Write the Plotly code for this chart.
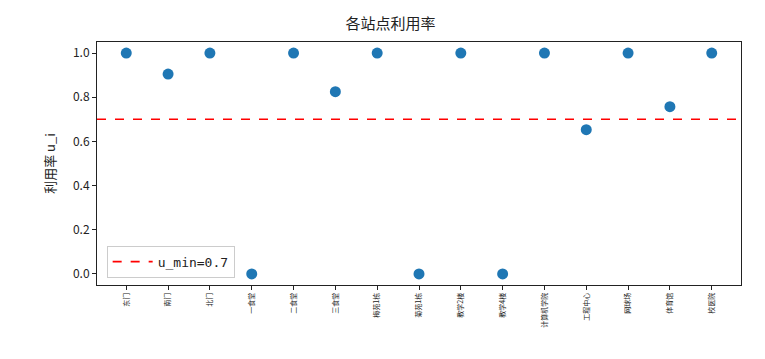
import plotly.graph_objects as go

stations = ["东门", "南门", "北门", "一食堂", "二食堂", "三食堂", "梅苑1栋", "菊苑1栋",
            "教学2楼", "教学4楼", "计算机学院", "工程中心", "网球场", "体育馆", "校医院"]
utilization = [1.0, 0.905, 1.0, 0.0, 1.0, 0.825, 1.0, 0.0, 1.0, 0.0, 1.0, 0.653, 1.0, 0.757, 1.0]
u_min = 0.7
y_ticks = [0.0, 0.2, 0.4, 0.6, 0.8, 1.0]

font = "Noto Sans CJK SC, DejaVu Sans, sans-serif"

fig = go.Figure()
fig.add_trace(go.Scatter(
    x=list(range(len(stations))), y=utilization, mode="markers",
    marker=dict(color="#1f77b4", size=11, line=dict(width=0)),
    showlegend=False))
fig.add_trace(go.Scatter(
    x=[None], y=[None], mode="lines",
    line=dict(color="red", dash="dash", width=1.6),
    name=f"u_min={u_min}"))
fig.add_hline(y=u_min, line=dict(color="red", dash="dash", width=1.6))

fig.update_layout(
    width=765, height=359,
    margin=dict(l=89, r=32, t=34, b=82),
    plot_bgcolor="white", paper_bgcolor="white",
    font=dict(family=font, color="#222", size=12),
    title=dict(text="各站点利用率", x=0.5, xanchor="center", y=0.955, yanchor="middle",
               font=dict(size=15, color="#222")),
    legend=dict(x=0.015, y=0.03, xanchor="left", yanchor="bottom",
                bgcolor="rgba(255,255,255,0.9)", bordercolor="#ccc", borderwidth=1,
                itemwidth=40,
                font=dict(size=13, family="DejaVu Sans Mono, monospace")),
    xaxis=dict(
        range=[-0.7, len(stations) - 1 + 0.7],
        tickmode="array", tickvals=list(range(len(stations))), ticktext=stations,
        tickangle=-90, tickfont=dict(size=7),
        ticks="outside", ticklen=4, tickcolor="#222",
        showline=True, linecolor="#222", linewidth=1, mirror=True,
        showgrid=False, zeroline=False),
    yaxis=dict(
        range=[-0.05, 1.05],
        tickmode="array", tickvals=y_ticks, ticktext=[f"{v:.1f}" for v in y_ticks],
        ticks="outside", ticklen=4, tickcolor="#222",
        showline=True, linecolor="#222", linewidth=1, mirror=True,
        showgrid=False, zeroline=False,
        title=dict(text="利用率 u_i", font=dict(size=13), standoff=14)),
)

fig.write_html("out.html")
